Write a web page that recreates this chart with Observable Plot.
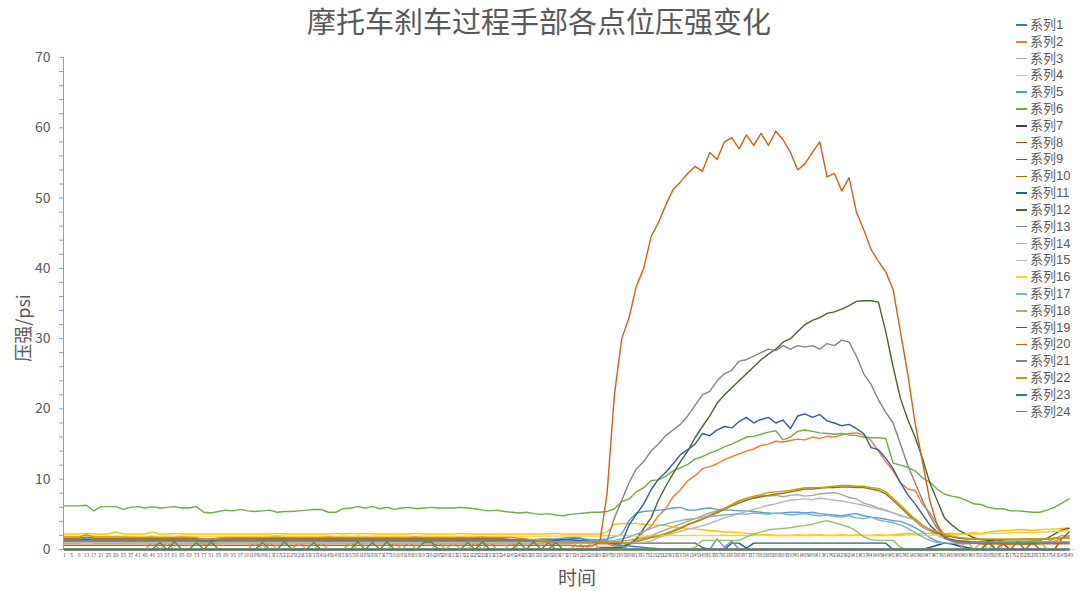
<!DOCTYPE html>
<html>
<head>
<meta charset="utf-8">
<script src="https://cdn.jsdelivr.net/npm/d3@7"></script>
<script src="https://cdn.jsdelivr.net/npm/@observablehq/plot@0.6"></script>
<style>
  body { margin: 0; background: #fff; font-family: "Noto Sans CJK SC", "Noto Sans", sans-serif; }
  #wrap { position: relative; width: 1080px; height: 591px; overflow: hidden; background: #fff; }
  #chart { position: absolute; left: 0; top: 0; }
  #title { position: absolute; left: 0; top: 5px; width: 1078px; text-align: center; font-size: 29px; line-height: 30px; color: #595959; }
  #ylab { position: absolute; left: 22px; top: 328px; transform: translate(-50%, -50%) rotate(-90deg); font-size: 18px; line-height: 20px; color: #595959; white-space: nowrap; }
  #xlab { position: absolute; left: 577px; top: 577px; transform: translate(-50%, -50%); font-size: 19px; line-height: 20px; color: #595959; white-space: nowrap; }
  .leg { position: absolute; left: 1016px; height: 14px; line-height: 14px; display: flex; align-items: center; font-family: "Liberation Sans", "Noto Sans CJK SC", sans-serif; font-size: 13px; color: #595959; white-space: nowrap; }
  .leg i { display: inline-block; width: 11px; height: 1.5px; margin-right: 3px; }
  #err { position: absolute; left: 100px; top: 100px; color: red; font-size: 14px; }
</style>
</head>
<body>
<div id="wrap">
  <div id="chart"></div>
  <div id="title">摩托车刹车过程手部各点位压强变化</div>
  <div id="ylab">压强/psi</div>
  <div id="xlab">时间</div>
  <div id="legend"></div>
  <div id="err"></div>
</div>
<script>
// category labels on the time axis (every 4th sample point)
const categories = d3.range(1, 553, 4); // 1, 5, 9, ... 549
const yTicks = [0, 10, 20, 30, 40, 50, 60, 70];
const seriesNames = ["系列1","系列2","系列3","系列4","系列5","系列6","系列7","系列8","系列9","系列10","系列11","系列12",
  "系列13","系列14","系列15","系列16","系列17","系列18","系列19","系列20","系列21","系列22","系列23","系列24"];
const seriesColors = ["#4472C4","#ED7D31","#A5A5A5","#FFC000","#5B9BD5","#70AD47","#264478","#9E480E","#636363","#997300","#255E91","#43682B",
  "#698ED0","#F1975A","#B7B7B7","#FFCD33","#7CAFDD","#8CC168","#335AA1","#D26012","#848484","#CC9A00","#3275B3","#5A8A39"];

const s1 = [
1.3,1.3,1.3,1.5,1.3,1.3,1.3,1.3,1.3,1.3,
1.3,1.3,1.4,1.3,1.3,1.3,1.3,1.3,1.3,1.2,
1.2,1.3,1.3,1.3,1.3,1.3,1.3,1.3,1.3,1.3,
1.3,1.3,1.3,1.3,1.3,1.3,1.3,1.3,1.3,1.3,
1.3,1.3,1.3,1.3,1.3,1.3,1.3,1.3,1.3,1.3,
1.3,1.3,1.3,1.3,1.3,1.3,1.3,1.3,1.3,1.3,
1.3,1.3,1.3,1.3,1.3,1.3,1.4,1.4,1.4,1.5,
1.6,1.4,1.3,
1.2,1.0,0.8,0.6,0.5,0.4,0.3,0.2,0.1,0,
0,0,0,0,0,0,0,0,0,0,
0,0,0,0,0,0,0,0,0,0,
0,0,0,0,0,0,0,0,0,0,
0,0,0,0,0,0,0,0,0,0,
0,0,0,0,0,0,0,0,0,0,
0,0,0,0,0];

const s2 = [
0.9,0.9,0.9,1.0,0.9,0.9,0.9,0.9,0.9,0.9,
0.9,0.9,0.9,0.9,0.9,0.9,0.9,0.9,0.9,0.8,
0.8,0.9,0.9,0.9,0.9,0.9,0.9,0.9,0.9,0.9,
0.9,0.9,0.9,0.9,0.9,0.9,0.9,0.9,0.9,0.9,
0.9,0.9,0.9,0.9,0.9,0.9,0.9,0.9,0.9,0.9,
0.9,0.9,0.9,0.9,0.9,0.9,0.9,0.9,0.9,0.9,
0.9,0.9,0.9,0.9,0.9,0.9,1.0,1.0,0.9,0.9,
0.9,0.9,0.8,
0.8,0.8,0.5,0.5,0.6,1.5,2.5,3.3,4.8,5.8,
7.5,8.5,9.8,10.5,11.5,11.8,12.2,12.8,13.2,13.6,
14,14.3,14.8,15,15.4,15.3,15.5,15.7,15.6,16,
15.8,16.1,16,16.3,16.5,16.6,16.3,15.5,14,12.5,
11.2,9.5,8.6,8.4,6.5,5.2,3.6,2,1.2,1.0,
0.9,0.9,0.8,0.8,0.8,0.8,0.7,0.7,0.7,0.7,
0.8,0.9,1.2,1.6,2.0];

const s3 = [
1.1,1.1,1.1,1.2,1.1,1.1,1.1,1.1,1.1,1.1,
1.1,1.1,1.1,1.1,1.1,1.1,1.1,1.1,1.1,1.0,
1.0,1.1,1.1,1.1,1.1,1.1,1.1,1.1,1.1,1.1,
1.1,1.1,1.1,1.1,1.1,1.1,1.1,1.1,1.1,1.1,
1.1,1.1,1.1,1.1,1.1,1.1,1.1,1.1,1.1,1.1,
1.1,1.1,1.1,1.1,1.1,1.1,1.1,1.1,1.1,1.1,
1.1,1.1,1.1,1.1,1.1,1.1,1.1,1.0,1.0,1.0,
1.0,1.0,1.0,
1.0,1.0,1.1,1.2,1.3,1.5,1.7,2.0,2.4,2.8,
3.2,3.6,4.0,4.4,4.8,5.2,5.5,5.9,6.4,6.9,
7.1,7.4,7.7,7.6,7.7,7.5,7.7,7.8,7.6,7.7,
7.9,8.0,8.1,7.8,7.4,7.2,6.6,6.3,5.9,5.6,
5.2,4.8,4.5,4.4,3.5,2.8,2.2,1.7,1.4,1.2,
1.2,1.1,1.1,1.1,1.0,1.0,1.0,1.1,1.1,1.0,
1.0,1.1,1.5,2.0,1.8];

const s4 = [
2.2,2.2,2.2,2.3,2.2,2.2,2.2,2.5,2.2,2.2,
2.2,2.2,2.5,2.2,2.2,2.3,2.2,2.2,2.2,2.2,
2.2,2.2,2.2,2.2,2.2,2.2,2.2,2.2,2.2,2.3,
2.2,2.2,2.2,2.2,2.2,2.2,2.2,2.3,2.2,2.3,
2.2,2.3,2.2,2.2,2.2,2.2,2.2,2.2,2.3,2.2,
2.2,2.2,2.2,2.2,2.3,2.2,2.2,2.2,2.2,2.2,
2.2,2.2,2.2,2.2,2.2,2.2,2.2,2.3,2.2,2.2,
2.2,2.2,2.2,
2.2,2.5,3.6,3.7,3.7,3.7,3.6,3.5,3.5,3.4,
3.2,3.1,3.0,2.9,2.8,2.7,2.6,2.5,2.5,2.4,
2.3,2.2,2.1,2.1,2.0,2.0,2.0,2.1,2.0,2.0,
2.1,2.0,2.0,2.1,2.0,2.1,2.0,2.0,2.1,2.0,
2.1,2.2,2.3,2.2,2.3,2.3,2.2,2.3,2.3,2.2,
2.3,2.4,2.3,2.5,2.6,2.7,2.7,2.8,2.8,2.7,
2.8,2.9,2.9,3.0,3.1];

const s5 = [
1.4,1.4,1.4,1.6,1.4,1.4,1.4,1.4,1.4,1.4,
1.4,1.4,1.4,1.4,1.4,1.4,1.4,1.4,1.4,1.3,
1.3,1.4,1.4,1.4,1.4,1.4,1.4,1.4,1.4,1.4,
1.4,1.4,1.4,1.4,1.4,1.4,1.4,1.4,1.4,1.4,
1.4,1.4,1.4,1.4,1.4,1.4,1.4,1.4,1.4,1.4,
1.4,1.4,1.4,1.4,1.4,1.4,1.4,1.4,1.4,1.4,
1.4,1.4,1.4,1.4,1.4,1.5,1.5,1.5,1.6,1.7,
1.7,1.5,1.4,
1.4,1.5,1.8,2.2,4.1,5.2,5.4,5.5,5.6,5.7,
5.9,6.0,5.6,5.6,5.8,5.9,5.7,5.6,5.6,5.5,
5.5,5.4,5.3,5.2,5.1,5.2,5.3,5.3,5.2,5.3,
5.1,5.0,4.9,4.8,5.0,5.1,4.8,4.6,4.5,4.3,
4.1,4.0,3.6,3.1,2.5,1.7,1.2,0.9,0.8,0.8,
0.8,0.9,0.9,1.0,1.0,0.9,0.9,1.0,1.0,1.0,
1.0,0.9,1.0,1.1,1.0];

const s6 = [
6.2,6.2,6.2,6.3,5.5,6.1,6.1,6.1,5.7,6.0,
6.1,5.9,6.1,5.9,6.0,6.1,5.9,5.9,6.1,5.3,
5.2,5.4,5.6,5.5,5.7,5.5,5.4,5.5,5.6,5.3,
5.4,5.4,5.5,5.6,5.7,5.7,5.3,5.3,5.8,5.9,
6.1,5.9,6.1,5.8,6.0,5.7,5.9,6.0,5.8,5.9,
6.0,5.9,5.9,5.9,6.0,5.9,5.8,5.6,5.5,5.6,
5.4,5.3,5.2,5.3,5.1,5.0,5.1,4.9,4.8,5.0,
5.1,5.2,5.3,
5.3,5.4,5.8,6.8,7.2,8.2,8.8,9.8,9.9,10.4,
11.2,11.6,12.1,12.9,13.2,13.7,14.1,14.6,15.0,15.5,
16.0,16.1,16.4,16.7,16.9,15.6,16.0,16.8,17.0,16.8,
16.6,16.5,16.4,16.5,16.3,16.2,16.0,15.9,15.9,15.8,
12.3,12.0,11.7,11.2,10.2,9.6,8.6,7.9,7.6,7.4,
7.0,6.5,6.4,6.0,5.8,5.8,5.5,5.5,5.4,5.3,
5.3,5.6,6.0,6.6,7.2];

const s7 = [
0,0,0,0,0,0,0,0,0,0,
0,0,0,0,0,0,0,0,0,0,
0,0,0,0,0,0,0,0,0,0,
0,0,0,0,0,0,0,0,0,0,
0,0,0,0,0,0,0,0,0,0,
0,0,0,0,0,0,0,0,0,0,
0,0,0,0,0,0,0,0,0,0,
0,0,0,
0,0,0,0,0,0,0,0,0,0,
0,0,0,0,0,0,0,0,0,0,
0,0,0,0,0,0,0,0,0,0,
0,0,0,0,0,0,0,0,0,0,
0,0,0,0,0,0.3,0.6,0.9,0.8,0.5,
0.3,0.1,0,0,0,0,0,0,0,0,
0,0,0,0,0];

const s8 = [
0,0,0,0,0,0,0,0,0,0,
0,0,0,0,0,0,0,0,0,0,
0,0,0,0,0,0,0,0,0,0,
0,0,0,0,0,0,0,0,0,0,
0,0,0,0,0,0,0,0,0,0,
0,0,0,0,0,0,0,0,0,0,
0,0,0,0,0,0,0,0,0,0,
0,0,0,
0,0,0,0,0,0,0,0,0,0,
0,0,0,0,0,0,0,0,0,0,
0,0,0,0,0,0,0,0,0,0,
0,0,0,0,0,0,0,0,0,0,
0,0,0,0,0,0,0,0,0,0,
0,0,0,1.2,0,0.8,0,0,0,0,
0,0,0,1.5,2.5];

const s9 = [
0,0,0,0,0,0,0,0,0,0,
0,0,0,0,0,0,0,0,0,0,
0,0,0,0,0,0,0,0,0,0,
0,0,0,0,0,0,0,0,0,0,
0,0,0,0,0,0,0,0,0,0,
0,0,0,0,0,0,0,0,0,0,
0,0,0,0,0,0,1.0,0,0,0,
0,0,0,
0.3,0.3,0.3,0.3,0.9,0.9,0.9,0.9,0.9,0.9,
0.9,0.9,0.9,0.9,0.3,0,0,0,0,0,
0,0,0,0,0,0,0,0,0,0,
0,0,0,0,0,0,0,0,0,0,
0,0,0,0,0,0,0,0,0,0,
0,0,0,0,0,0,0,0,0,0,
0,0,0,0,0];

const s10 = [
1.6,1.6,1.6,1.8,1.6,1.6,1.6,1.6,1.6,1.6,
1.6,1.6,1.6,1.6,1.6,1.6,1.6,1.6,1.6,1.5,
1.5,1.6,1.6,1.6,1.6,1.6,1.6,1.6,1.6,1.6,
1.6,1.6,1.6,1.6,1.6,1.6,1.6,1.6,1.6,1.6,
1.6,1.6,1.6,1.6,1.6,1.6,1.6,1.6,1.6,1.6,
1.6,1.6,1.6,1.6,1.6,1.6,1.6,1.6,1.6,1.6,
1.5,1.4,1.3,1.2,1.1,1.0,1.0,1.0,1.0,1.0,
1.0,1.0,1.0,
1.0,1.0,1.0,0.9,0.9,1.1,1.4,1.7,1.9,2.2,
2.6,3.0,3.5,3.9,4.3,4.8,5.2,5.7,6.2,6.6,
7.0,7.3,7.5,7.7,7.9,8.0,8.2,8.4,8.6,8.6,
8.7,8.8,8.8,8.9,8.9,8.8,8.8,8.6,8.4,7.9,
7.0,6.0,5.0,4.1,3.2,2.7,2.3,2.0,1.8,1.6,
1.5,1.5,1.4,1.4,1.4,1.4,1.4,1.4,1.5,1.5,
1.5,1.5,1.6,1.6,1.6];

const s11 = [
0,0,0,0,0,0,0,0,0,0,
0,0,0,0,0,0,0,0,0,0,
0,0,0,0,0,0,0,0,0,0,
0,0,0,0,0,0,0,0,0,0,
0,0,0,0,0,0,0,0,0,0,
0,0,0,0,0,0,0,0,0,0,
0,0,0,0,0,0,0,0,0,0,
0,0,0,
0,0,0,0,0,0,0,0,0,0,
0,0,0,0,0,0,0,0,0.9,0.9,
0.2,0.9,0.9,0.9,0.9,0.9,0.9,0.9,0.9,0.9,
0.9,0.9,0.9,0.9,0.9,0.9,0.9,0.9,0.9,0.9,
0,0,0,0,0,0,0,0,0,0,
0,0,0,0,0,0,0,0,0,0,
0,0,0,0,0];

const s12 = [
0,0,0,0,0,0,0,0,0,0,
0,0,0,0,0,0,0,0,0,0,
0,0,0,0,0,0,0,0,0,0,
0,0,0,0,0,0,0,0,0,0,
0,0,0,0,0,0,0,0,0,0,
0,0,0,0,0,0,0,0,0,0,
0,0,0,0,0,0,0,0,0,0,
0,0,0,
0,0,0.2,0.3,0.8,1.5,3,4.5,7,9,
10.8,12.5,14,15.9,17.5,19,20.8,22,23,24,
25,26,27,27.8,28.5,29.5,30,31,32,32.6,
33,33.6,33.8,34.2,34.7,35.3,35.4,35.4,35.2,31,
26,21.5,18.5,16,13,9.5,7,4.5,3.5,2.7,
2.2,1.7,1.4,1.3,1.2,1.2,1.1,1.1,1.1,1.2,
1.3,1.6,2.2,2.8,3.0];

const s13 = [
1.2,1.2,1.2,1.3,1.2,1.2,1.2,1.2,1.2,1.2,
1.2,1.2,1.2,1.2,1.2,1.2,1.2,1.2,1.2,1.1,
1.1,1.2,1.2,1.2,1.2,1.2,1.2,1.2,1.2,1.2,
1.2,1.2,1.2,1.2,1.2,1.2,1.2,1.2,1.2,1.2,
1.2,1.2,1.2,1.2,1.2,1.2,1.2,1.2,1.2,1.2,
1.2,1.2,1.2,1.2,1.2,1.2,1.2,1.2,1.2,1.2,
1.2,1.2,1.2,1.2,1.2,1.2,1.3,1.3,1.3,1.3,
1.3,1.2,1.2,
1.1,1.0,0.8,0.5,0,0,0,0,0,0,
0,0,0,0,0,0,1.5,0.3,1.2,0,
0,0,0,0,0,0,0,0,0,0,
0,0,0,0,0,0,0,0,0,0,
0,0,0,0,0,0,0,0,0,0,
0,0,0,0,0,0,0,0,0,0,
0,0,0,0,0];

const s14 = [
0,0,0,0,0,0,0,0,0,0,
0,0,1.1,0,1.0,0,0,0,0,0,
0,0,0,0,0,0,1.1,0,1.0,0,
0,0,1.1,0,0,1.0,0,0,0,1.1,
0,0,0,0,0,1.0,0,1.1,0,0,
0,1.0,0,1.1,0,0,1.0,0,1.1,0,
0,1.0,0,0,0,0,0,0,0,0,
1.1,0,1.2,
0,0,0,0,0,0,0,0,0,0,
0,0,0,0,0,0,0,0,0,0,
0,0,0,0,0,0,0,0,0,0,
0,0,0,0,0,0,0,0,0,0,
0,0,0,0,0,0,0,0,0,0,
1.3,0,1.0,0,1.2,0,0,0,0,0,
0,0,0,0,0];

const s15 = [
1.0,1.0,1.0,1.0,1.0,1.0,1.0,1.0,1.0,1.0,
1.0,1.0,1.0,1.0,1.0,1.0,1.0,1.0,1.0,1.0,
1.0,1.0,1.0,1.0,1.0,1.0,1.0,1.0,1.0,1.0,
1.0,1.0,1.0,1.0,1.0,1.0,1.0,1.0,1.0,1.0,
1.0,1.0,1.0,1.0,1.0,1.0,1.0,1.0,1.0,1.0,
1.0,1.0,1.0,1.0,1.0,1.0,1.0,1.0,1.0,1.0,
1.0,1.0,1.0,1.0,1.0,1.0,1.0,1.0,1.0,1.0,
1.0,1.0,1.0,
1.0,1.0,1.0,1.0,1.0,1.0,1.0,1.2,1.7,2.0,
2.3,2.6,2.9,3.1,3.4,3.7,4.1,4.5,4.8,5.1,
5.4,5.7,6.0,6.3,6.5,6.8,7.0,7.1,7.2,7.1,
7.3,7.2,7.0,6.9,6.7,6.5,6.3,6.0,5.8,5.5,
5.2,4.9,4.5,4.2,3.3,2.6,2.0,1.6,1.3,1.1,
1.1,1.0,1.0,1.0,1.0,1.0,1.0,1.0,1.0,1.0,
1.0,1.0,1.0,1.0,1.0];

const s16 = [
1.9,1.9,1.9,2.0,1.9,1.9,1.9,1.9,1.9,1.9,
1.9,1.9,1.9,1.9,1.9,1.9,1.9,1.9,1.9,1.9,
1.9,1.9,1.9,1.9,1.9,1.9,1.9,1.9,1.9,2.0,
1.9,1.9,1.9,1.9,1.9,1.9,1.9,1.9,1.9,1.9,
1.9,1.9,1.9,1.9,1.9,1.9,1.9,1.9,1.9,1.9,
1.9,1.9,1.9,1.9,1.9,1.9,1.9,1.9,1.9,1.9,
1.9,1.9,1.9,1.9,1.9,1.9,1.9,1.9,1.9,1.9,
1.9,1.9,1.9,
1.9,2.0,2.0,2.0,2.0,1.9,1.9,2.0,2.0,2.0,
2.0,2.0,2.0,2.0,2.0,2.0,2.0,2.0,2.0,2.0,
2.0,2.0,2.1,2.0,2.0,2.0,2.0,2.0,2.0,2.1,
2.0,2.0,2.0,2.0,2.0,2.0,2.0,2.0,2.0,2.0,
2.0,2.0,2.1,2.1,2.0,2.0,2.1,2.1,2.1,2.1,
2.2,2.2,2.2,2.3,2.3,2.3,2.4,2.4,2.4,2.4,
2.5,2.5,2.6,2.6,2.7];

const s17 = [
1.2,1.2,1.2,1.2,1.2,1.2,1.2,1.2,1.2,1.2,
1.2,1.2,1.2,1.2,1.2,1.2,1.2,1.2,1.2,1.2,
1.2,1.2,1.2,1.2,1.2,1.2,1.2,1.2,1.2,1.2,
1.2,1.2,1.2,1.2,1.2,1.2,1.2,1.2,1.2,1.2,
1.2,1.2,1.2,1.2,1.2,1.2,1.2,1.2,1.2,1.2,
1.2,1.2,1.2,1.2,1.2,1.2,1.2,1.2,1.2,1.2,
1.2,1.2,1.2,1.2,1.2,1.2,1.2,1.2,1.2,1.2,
1.2,1.2,1.2,
1.2,1.2,1.3,1.5,1.8,2.2,2.6,3.0,3.4,3.6,
3.9,4.1,4.3,4.4,4.6,4.7,4.8,4.9,5.0,5.1,
5.0,5.2,5.1,5.0,5.2,5.1,4.9,5.0,5.1,4.9,
4.8,4.9,4.7,4.6,4.8,4.5,4.4,4.6,4.2,4.0,
3.8,3.5,3.0,2.4,1.8,1.3,1.0,0.9,0.9,0.9,
1.0,1.0,1.1,1.0,1.0,1.1,1.1,1.0,1.0,1.0,
1.0,1.1,1.0,1.1,1.1];

const s18 = [
0,0,0,0,0,0,0,0,0,0,
0,0,0,0,0,0,0,0,0,0,
0,0,0,0,0,0,0,0,0,0,
0,0,0,0,0,0,0,0,0,0,
0,0,0,0,0,0,0,0,0,0,
0,0,0,0,0,0,0,0,0,0,
0,0,0,0,0,0,0,0,0,0,
0,0,0,
0,0,0,0,0,0,0,0,0,0,
0,0,0,0.3,1.3,1.3,1.3,1.3,1.3,1.3,
1.8,2.2,2.5,2.8,2.9,3.0,3.1,3.3,3.4,3.6,
3.9,4.1,3.8,3.5,3.2,2.6,1.8,1.4,1.3,1.3,
1.3,0.3,0,0,0,0,0,0,0,0,
0,0,0,0,0,1.2,1.2,1.2,1.2,1.2,
1.2,0,0,0,0];

const s19 = [
1.3,1.3,1.3,1.4,1.3,1.3,1.3,1.3,1.3,1.3,
1.3,1.3,1.3,1.3,1.3,1.3,1.3,1.3,1.3,1.3,
1.3,1.3,1.3,1.3,1.3,1.3,1.3,1.3,1.3,1.3,
1.3,1.3,1.3,1.3,1.3,1.3,1.3,1.3,1.3,1.3,
1.3,1.3,1.3,1.3,1.3,1.3,1.3,1.3,1.3,1.3,
1.3,1.3,1.3,1.3,1.3,1.3,1.3,1.3,1.3,1.3,
1.3,1.3,1.3,1.3,1.3,1.3,1.3,1.3,1.4,1.4,
1.3,1.2,1.1,
1.0,1.0,0.8,1.0,3.5,5.0,6.5,8.5,10.0,11.0,
12.2,13.5,14.2,15.0,16.5,16.2,17.0,17.5,17.3,18.2,
18.8,18.0,18.5,18.8,18.0,18.4,17.2,19.0,19.3,18.8,
19.2,18.3,18.0,17.6,17.8,17.2,16.5,14.5,14.2,13.0,
11.5,9.5,7.8,6.5,5.0,3.5,2.5,1.8,1.4,1.2,
1.1,1.0,1.0,1.0,0.9,0.9,0.9,0.9,0.9,0.9,
0.9,0.9,0.9,0.9,0.9];

const s20 = [
0.6,0.6,0.6,0.6,0.6,0.6,0.6,0.6,0.6,0.6,
0.6,0.6,0.6,0.6,0.6,0.6,0.6,0.6,0.6,0.6,
0.6,0.6,0.6,0.6,0.6,0.6,0.6,0.6,0.6,0.6,
0.6,0.6,0.6,0.6,0.6,0.6,0.6,0.6,0.6,0.6,
0.6,0.6,0.6,0.6,0.6,0.6,0.6,0.6,0.6,0.6,
0.6,0.6,0.6,0.6,0.6,0.6,0.6,0.6,0.6,0.6,
0.6,0.6,0.6,0.6,0.6,0.6,0.6,0.6,0.6,0.6,
0.5,0.5,0.5,
1,8,22,30,33,37.5,40,44.5,46.5,49,
51.2,52.3,53.5,54.5,53.8,56.5,55.5,58,58.6,57,
59,57.5,59.2,57.5,59.5,58.3,56.5,54,54.9,56.5,
58,53,53.5,51,52.9,48,45.5,42.7,41,39.5,
37,31,25,18,12.5,7,3.5,1.6,1.2,1.0,
0.9,0.9,0.8,0.8,0.8,0.8,0.8,0.8,0.8,0.8,
0.8,0.8,0.8,0.8,0.8];

const s21 = [
1.2,1.2,1.2,1.2,1.2,1.2,1.2,1.2,1.2,1.2,
1.2,1.2,1.2,1.2,1.2,1.2,1.2,1.2,1.2,1.1,
1.1,1.2,1.2,1.2,1.2,1.2,1.2,1.2,1.2,1.2,
1.2,1.2,1.2,1.2,1.2,1.2,1.2,1.2,1.2,1.2,
1.2,1.2,1.2,1.2,1.2,1.2,1.2,1.2,1.2,1.2,
1.2,1.2,1.2,1.2,1.2,1.2,1.2,1.2,1.2,1.2,
1.2,1.2,1.2,1.2,1.2,1.2,1.0,1.0,1.1,1.1,
1.1,1.1,1.1,
1.1,1.2,4.5,7,9.5,11.5,12.5,14,15,16.2,
17,17.8,19,20.5,22,22.5,24,25,25.5,26.8,
27,27.5,28,28.5,28.3,29,28.5,29,28.8,29,
28.5,29.3,29,29.8,29.5,27.5,25,23.5,21.3,19.5,
18,15,12,9.5,7,4.8,3,2,1.2,1.1,
1.0,1.0,1.0,1.0,1.0,1.0,1.0,1.0,1.0,1.0,
1.0,1.0,1.0,1.0,1.0];

const s22 = [
1.8,1.8,1.8,2.1,1.8,1.8,1.8,1.8,1.8,1.7,
1.7,1.7,1.8,1.7,1.7,1.7,1.8,1.7,1.7,1.4,
1.4,1.6,1.7,1.7,1.7,1.7,1.7,1.7,1.7,1.8,
1.7,1.7,1.7,1.7,1.7,1.7,1.8,1.7,1.7,1.7,
1.7,1.7,1.7,1.7,1.7,1.7,1.7,1.7,1.8,1.7,
1.7,1.7,1.7,1.7,1.7,1.7,1.7,1.8,1.7,1.7,
1.7,1.7,1.6,1.5,1.4,1.3,1.2,1.1,1.1,1.1,
1.1,1.1,1.1,
1.1,1.0,1.0,1.0,0.9,1.2,1.5,1.8,2.0,2.3,
2.7,3.1,3.6,4.0,4.4,4.9,5.4,5.8,6.4,6.9,
7.3,7.6,7.8,8.1,8.2,8.3,8.4,8.6,8.8,8.8,
8.8,8.9,9.0,9.1,9.1,9.0,9.0,8.8,8.7,8.2,
7.3,6.3,5.3,4.3,3.4,2.9,2.5,2.2,1.9,1.7,
1.6,1.5,1.5,1.5,1.5,1.5,1.5,1.5,1.5,1.5,
1.5,1.5,1.6,1.6,1.6];

const s23 = [
0,0,0,0,0,0,0,0,0,0,
0,0,0,0,0,0,0,0,0,0,
0,0,0,0,0,0,0,0,0,0,
0,0,0,0,0,0,0,0,0,0,
0,0,0,0,0,0,0,0,0,0,
0,0,0,0,0,0,0,0,0,0,
0,0,0,0,0,0,0,0,0,0,
0,0,0,
0,0,0,0,0,0,0,0,0,0,
0,0,0,0,0,0,0,0,0,0,
0,0,0,0,0,0,0,0,0,0,
0,0,0,0,0,0,0,0,0,0,
0,0,0,0,0,0,0,0,0,0,
0,0,0,0,0,0,0,0,0,0,
0,0,0,0,0];

const s24 = [
0,0,0,0,0,0,0,0,0,0,
0,0,0,1.0,0,1.1,0,0,1.0,0,
1.1,0,0,0,0,0,0,1.0,0,0,
1.1,0,0,0,1.0,0,0,0,0,0,
1.1,0,1.0,0,1.1,0,0,0,0,1.0,
1.1,0,0,0,0,1.0,0,1.1,0,0,
0,0,1.0,0,1.1,0,0,1.0,0,0,
0,0,0,
0,0,0,0,0,0,0,0,0,0,
0,0,0,0,0,0,0,0,0,0,
0,0,0,0,0,0,0,0,0,0,
0,0,0,0,0,0,0,0,0,0,
0,0,0,0,0,0,0,0,0,0,
0,0,0,1.0,0,0,0,1.1,0,1.0,
0,0,0,0,0];

const seriesValues = [s1,s2,s3,s4,s5,s6,s7,s8,s9,s10,s11,s12,s13,s14,s15,s16,s17,s18,s19,s20,s21,s22,s23,s24];

// sanity check of lengths
const bad = seriesValues.map((a, i) => a.length !== categories.length ? seriesNames[i] + ":" + a.length : null).filter(Boolean);
if (bad.length) document.getElementById("err").textContent = "length mismatch " + bad.join(", ");

const rows = [];
seriesValues.forEach((vals, i) => {
  vals.forEach((v, k) => {
    if (k < categories.length) rows.push({series: seriesNames[i], t: categories[k], v});
  });
});

const axisBlue = "#7F9FD8";
const chart = Plot.plot({
  width: 1080,
  height: 591,
  marginLeft: 63,
  marginRight: 5,
  marginTop: 57,
  marginBottom: 42,
  x: {domain: [0.5, 552.5], axis: null},
  y: {domain: [0, 70], axis: null},
  color: {domain: seriesNames, range: seriesColors},
  style: {background: "transparent", fontFamily: "'Noto Sans CJK SC', 'Noto Sans', sans-serif", color: "#595959"},
  marks: [
    Plot.ruleY([0], {stroke: "#D9D9D9"}),
    Plot.axisY({ticks: d3.range(0, 71, 2), tickSize: 4, tickFormat: () => "", stroke: axisBlue, label: null}),
    Plot.axisY({ticks: yTicks, tickSize: 0, tickPadding: 13, fontSize: 14, fill: "#595959", label: null}),
    Plot.ruleX([0.5], {stroke: axisBlue}),
    Plot.axisX({ticks: categories, tickFormat: d => String(d), tickSize: 0, tickPadding: 4, fontSize: 5, fill: "#595959", label: null}),
    Plot.line(rows, {x: "t", y: "v", z: "series", stroke: "series", strokeWidth: 1.4, strokeLinejoin: "round"})
  ]
});
document.getElementById("chart").appendChild(chart);

// legend
const leg = document.getElementById("legend");
seriesNames.forEach((name, i) => {
  const d = document.createElement("div");
  d.className = "leg";
  d.style.top = (18 + i * 16.81) + "px";
  const sw = document.createElement("i");
  sw.style.background = seriesColors[i];
  d.appendChild(sw);
  d.appendChild(document.createTextNode(name));
  leg.appendChild(d);
});
</script>
</body>
</html>
